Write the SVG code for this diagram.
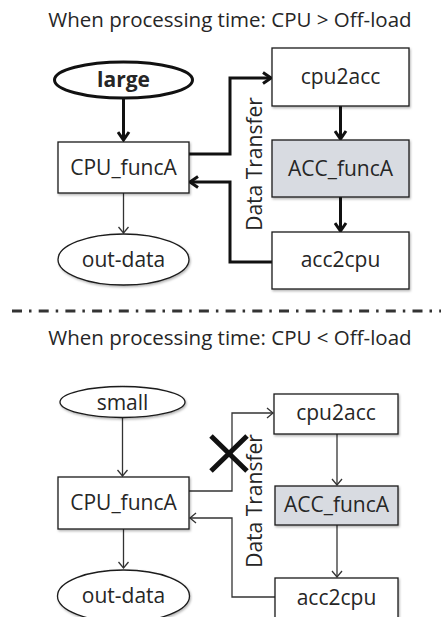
<svg xmlns="http://www.w3.org/2000/svg" width="441" height="617" viewBox="0 0 441 617">
<style>
text{font-family:"Open Sans","Noto Sans","DejaVu Sans",sans-serif;fill:#262626;}
.t{font-size:20.5px;text-anchor:middle;}
.lbl{font-size:21px;text-anchor:middle;}
.box{fill:#fff;stroke:#1a1a1a;stroke-width:1.3;filter:url(#sh);}
.acc{fill:#d8dbe1;}
.thk{fill:none;stroke:#111;stroke-width:3;}
.thn{fill:none;stroke:#333;stroke-width:1.3;}
</style>
<defs>
<filter id="sh" x="-10%" y="-10%" width="130%" height="130%"><feDropShadow dx="1" dy="1.5" stdDeviation="1" flood-color="#000" flood-opacity="0.3"/></filter>
<marker id="ak" viewBox="0 0 12 14" refX="10" refY="7" markerWidth="12" markerHeight="14" markerUnits="userSpaceOnUse" orient="auto"><path d="M2,1.5 L10,7 L2,12.5" fill="none" stroke="#111" stroke-width="3"/></marker>
<marker id="an" viewBox="0 0 8 12" refX="7" refY="6" markerWidth="8" markerHeight="12" markerUnits="userSpaceOnUse" orient="auto"><path d="M1,1 L7,6 L1,11" fill="none" stroke="#333" stroke-width="1.3"/></marker>
</defs>

<text class="t" x="230" y="27">When processing time: CPU &gt; Off-load</text>
<text class="t" x="230" y="345">When processing time: CPU &lt; Off-load</text>

<g id="connectors">
<path class="thk" d="M123.5,98 V140" marker-end="url(#ak)"/>
<path class="thk" d="M189,154 H230 V78 H271" marker-end="url(#ak)"/>
<path class="thk" d="M272,262 H230 V182 H190" marker-end="url(#ak)"/>
<path class="thk" d="M340.5,106 V139" marker-end="url(#ak)"/>
<path class="thk" d="M340.5,197 V231" marker-end="url(#ak)"/>
<path class="thn" d="M123.5,193 V233" marker-end="url(#an)"/>
<path class="thn" d="M122.5,417.5 V476" marker-end="url(#an)"/>
<path class="thn" d="M123.5,529 V568" marker-end="url(#an)"/>
<path class="thn" d="M189,491 H232 V413 H273" marker-end="url(#an)"/>
<path class="thn" d="M275,597 H232 V518 H190" marker-end="url(#an)"/>
<path class="thn" d="M337,434 V485" marker-end="url(#an)"/>
<path class="thn" d="M337,525 V577" marker-end="url(#an)"/>
</g>

<line x1="12" y1="311" x2="441" y2="311" stroke="#333" stroke-width="3" stroke-dasharray="10 7 2.5 7.2"/>

<g id="large"><ellipse cx="123.5" cy="80" rx="69" ry="18" fill="#fff" stroke="#111" stroke-width="3"/><text class="lbl" x="123.5" y="87" font-weight="bold" font-size="20">large</text></g>
<g id="cpu_funcA_1"><rect class="box" x="58" y="142" width="131" height="51"/><text class="lbl" x="123.5" y="175">CPU_funcA</text></g>
<g id="outdata_1"><ellipse class="box" cx="123.5" cy="259.5" rx="65.5" ry="25.5"/><text class="lbl" x="123.5" y="267">out-data</text></g>
<g id="cpu2acc_1"><rect class="box" x="272" y="48" width="137" height="58"/><text class="lbl" x="340.5" y="84">cpu2acc</text></g>
<g id="acc_funcA_1"><rect class="box acc" x="272" y="140" width="137" height="57"/><text class="lbl" x="340.5" y="176">ACC_funcA</text></g>
<g id="acc2cpu_1"><rect class="box" x="272" y="232" width="137" height="57"/><text class="lbl" x="340.5" y="267">acc2cpu</text></g>
<g id="dt_1"><text class="lbl" transform="translate(262,164) rotate(-90)">Data Transfer</text></g>

<g id="small"><ellipse class="box" cx="122.5" cy="402" rx="62.5" ry="15.5"/><text class="lbl" x="122.5" y="410">small</text></g>
<g id="cpu_funcA_2"><rect class="box" x="58" y="477" width="131" height="52"/><text class="lbl" x="123.5" y="510">CPU_funcA</text></g>
<g id="outdata_2"><ellipse class="box" cx="123.5" cy="596" rx="66" ry="26"/><text class="lbl" x="123.5" y="603">out-data</text></g>
<g id="cpu2acc_2"><rect class="box" x="274" y="394" width="124" height="40"/><text class="lbl" x="336" y="420">cpu2acc</text></g>
<g id="acc_funcA_2"><rect class="box acc" x="275" y="486" width="123" height="39"/><text class="lbl" x="336.5" y="512">ACC_funcA</text></g>
<g id="acc2cpu_2"><rect class="box" x="275" y="578" width="123" height="50"/><text class="lbl" x="336.5" y="605">acc2cpu</text></g>
<g id="dt_2"><text class="lbl" transform="translate(262,501) rotate(-90)">Data Transfer</text></g>
<g id="xmark"><path d="M211,436 L247,471 M211,471 L247,436" stroke="#111" stroke-width="5" fill="none"/></g>
</svg>
